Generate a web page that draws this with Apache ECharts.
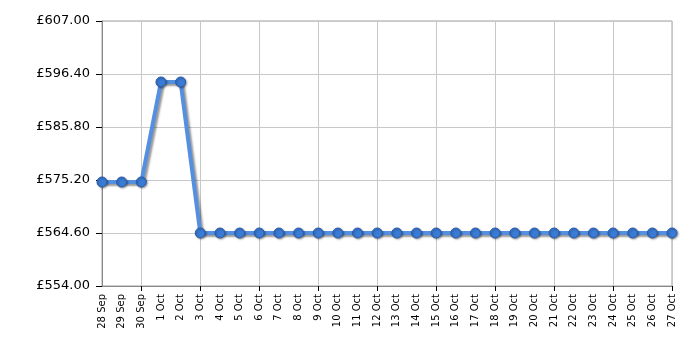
<!DOCTYPE html>
<html>
<head>
<meta charset="utf-8">
<script src="https://cdn.jsdelivr.net/npm/echarts@6/dist/echarts.min.js"></script>
<style>html,body{margin:0;padding:0;background:#fff}#c{width:700px;height:350px}</style>
</head>
<body>
<div id="c"></div>
<script>
const categories = ['28 Sep','29 Sep','30 Sep','1 Oct','2 Oct','3 Oct','4 Oct','5 Oct','6 Oct','7 Oct','8 Oct','9 Oct','10 Oct','11 Oct','12 Oct','13 Oct','14 Oct','15 Oct','16 Oct','17 Oct','18 Oct','19 Oct','20 Oct','21 Oct','22 Oct','23 Oct','24 Oct','25 Oct','26 Oct','27 Oct'];
const prices = [574.8,574.8,574.8,594.8,594.8,564.6,564.6,564.6,564.6,564.6,564.6,564.6,564.6,564.6,564.6,564.6,564.6,564.6,564.6,564.6,564.6,564.6,564.6,564.6,564.6,564.6,564.6,564.6,564.6,564.6];
const yTicks = [554.0,564.6,575.2,585.8,596.4,607.0];

const chart = echarts.init(document.getElementById('c'), null, {renderer:'canvas'});
chart.setOption({
  animation:false,
  grid:{left:102,right:28,top:21,bottom:64,show:true,borderColor:'#a0a0a0',borderWidth:1,containLabel:false},
  xAxis:{
    type:'category',data:categories,boundaryGap:false,
    axisLine:{lineStyle:{color:'#888',width:1}},
    axisTick:{show:true,length:5,lineStyle:{color:'#000'},interval:(i)=>i%3===2},
    splitLine:{show:true,interval:(i)=>i%3===2,lineStyle:{color:'#c8c8c8',width:1}},
    axisLabel:{rotate:90,interval:0,fontFamily:'DejaVu Sans',fontSize:10,color:'#000',margin:8}
  },
  yAxis:{
    type:'value',min:554,max:607,
    axisLine:{show:true,lineStyle:{color:'#888'}},
    axisTick:{show:true,length:6,lineStyle:{color:'#000'},customValues:yTicks},
    splitLine:{show:true,lineStyle:{color:'#c8c8c8',width:1}},
    axisLabel:{customValues:yTicks,fontFamily:'DejaVu Sans',fontSize:13,color:'#000',margin:12,
      formatter:(v)=>'£'+v.toFixed(2)}
  },
  series:[{
    type:'line',data:prices,symbol:'circle',symbolSize:10,
    lineStyle:{color:'#5590e0',width:4,shadowColor:'rgba(0,0,0,0.4)',shadowBlur:2,shadowOffsetX:2,shadowOffsetY:2},
    itemStyle:{color:'#3a7bd5',borderColor:'#2a5aa8',borderWidth:1,shadowColor:'rgba(0,0,0,0.35)',shadowBlur:2,shadowOffsetX:1,shadowOffsetY:1}
  }]
});
</script>
</body>
</html>
